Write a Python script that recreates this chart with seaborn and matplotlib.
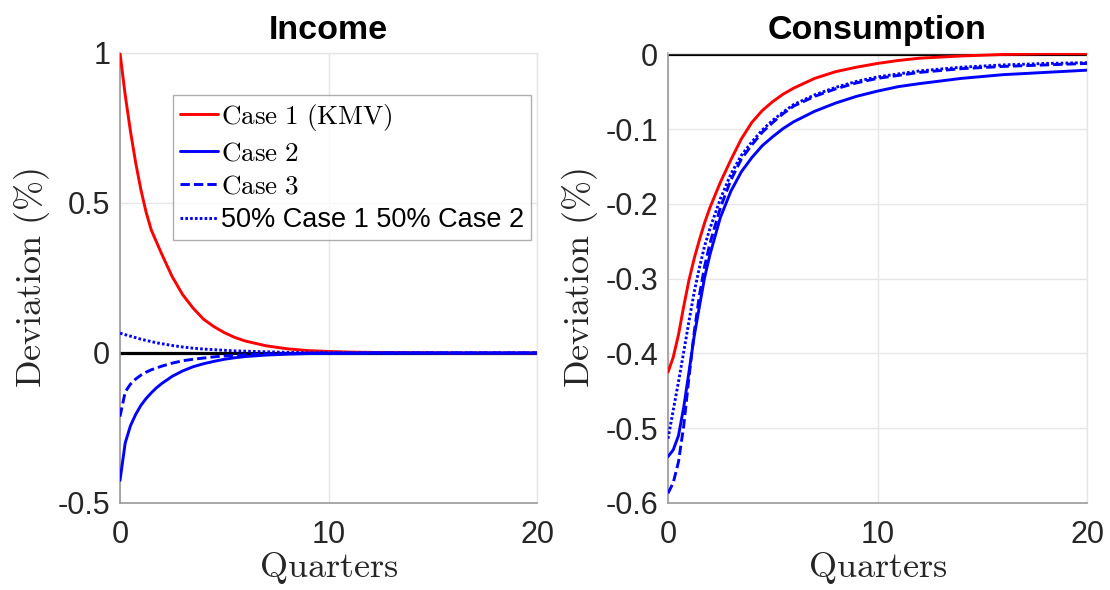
import numpy as np
import pandas as pd
import matplotlib
matplotlib.use("Agg")
import matplotlib.pyplot as plt
import seaborn as sns

# ---------------- data ----------------
quarters = [0, 0.25, 0.5, 0.75, 1, 1.25, 1.5, 1.75, 2, 2.5, 3, 3.5, 4, 4.5, 5, 5.5, 6,
            7, 8, 9, 10, 11, 12, 14, 16, 18, 20]

income_case1 = [1.0, 0.86, 0.74, 0.635, 0.545, 0.47, 0.41, 0.37, 0.33, 0.255, 0.195, 0.15,
                0.113, 0.088, 0.068, 0.052, 0.04, 0.024, 0.014, 0.008, 0.005, 0.003, 0.002,
                0.001, 0.0, 0.0, 0.0]
income_case2 = [-0.425, -0.30, -0.243, -0.205, -0.175, -0.152, -0.133, -0.116, -0.102, -0.078,
                -0.06, -0.046, -0.036, -0.028, -0.021, -0.016, -0.012, -0.007, -0.004, -0.002,
                -0.001, -0.001, 0.0, 0.0, 0.0, 0.0, 0.0]
income_case3 = [-0.212, -0.13, -0.104, -0.087, -0.074, -0.064, -0.056, -0.05, -0.044, -0.034,
                -0.026, -0.021, -0.017, -0.013, -0.01, -0.008, -0.006, -0.004, -0.002, -0.001,
                -0.001, 0.0, 0.0, 0.0, 0.0, 0.0, 0.0]
income_mix = [0.066, 0.061, 0.056, 0.051, 0.046, 0.042, 0.038, 0.034, 0.031, 0.025, 0.02,
              0.016, 0.013, 0.011, 0.009, 0.007, 0.006, 0.004, 0.002, 0.001, 0.001, 0.0, 0.0,
              0.0, 0.0, 0.0, 0.0]

cons_case1 = [-0.425, -0.405, -0.375, -0.337, -0.302, -0.273, -0.248, -0.225, -0.205, -0.171,
              -0.141, -0.113, -0.091, -0.075, -0.063, -0.053, -0.045, -0.032, -0.023, -0.017,
              -0.012, -0.008, -0.005, -0.002, 0.0, 0.001, 0.001]
cons_case2 = [-0.538, -0.529, -0.510, -0.472, -0.425, -0.377, -0.337, -0.298, -0.268, -0.218,
              -0.183, -0.157, -0.138, -0.122, -0.110, -0.099, -0.090, -0.076, -0.065, -0.056,
              -0.049, -0.043, -0.039, -0.032, -0.027, -0.024, -0.021]
cons_case3 = [-0.587, -0.573, -0.545, -0.497, -0.432, -0.372, -0.322, -0.283, -0.253, -0.205,
              -0.168, -0.140, -0.121, -0.104, -0.091, -0.079, -0.069, -0.056, -0.046, -0.038,
              -0.032, -0.028, -0.024, -0.019, -0.016, -0.014, -0.012]
cons_mix = [-0.514, -0.476, -0.438, -0.398, -0.357, -0.318, -0.285, -0.256, -0.233, -0.193,
            -0.160, -0.135, -0.117, -0.101, -0.088, -0.077, -0.067, -0.054, -0.044, -0.036,
            -0.030, -0.026, -0.022, -0.017, -0.014, -0.012, -0.011]

series_labels = [r"$\mathrm{Case\ 1\ (KMV)}$", r"$\mathrm{Case\ 2}$", r"$\mathrm{Case\ 3}$",
                 "50% Case 1 50% Case 2"]
panel_titles = ["Income", "Consumption"]
x_ticks = [0, 10, 20]
income_yticks = [-0.5, 0, 0.5, 1]
income_yticklabels = ["-0.5", "0", "0.5", "1"]
cons_yticks = [-0.6, -0.5, -0.4, -0.3, -0.2, -0.1, 0]
cons_yticklabels = ["-0.6", "-0.5", "-0.4", "-0.3", "-0.2", "-0.1", "0"]

# ---------------- style ----------------
sns.set_style("white")
plt.rcParams["font.family"] = ["Liberation Sans", "DejaVu Sans"]
plt.rcParams["mathtext.fontset"] = "cm"

colors = ["#ff0000", "#0000ff", "#0000ff", "#0000ff"]
styles = ["-", "-", (0, (3.2, 1.4)), (0, (0.9, 0.75))]

fig = plt.figure(figsize=(11.1, 5.9), dpi=100)
ax1 = fig.add_axes([0.1081, 0.1475, 0.3757, 0.7627])
ax2 = fig.add_axes([0.6018, 0.1475, 0.3775, 0.7627])

panels = [
    (ax1, [income_case1, income_case2, income_case3, income_mix], (-0.5, 1.0),
     income_yticks, income_yticklabels),
    (ax2, [cons_case1, cons_case2, cons_case3, cons_mix], (-0.6, 0.002),
     cons_yticks, cons_yticklabels),
]

for i, (ax, data, ylim, yt, ytl) in enumerate(panels):
    ax.axhline(0, color="black", lw=2.3, zorder=1.5)
    for vals, lab, c, ls in zip(data, series_labels, colors, styles):
        sns.lineplot(x=quarters, y=vals, ax=ax, color=c, label=lab, lw=2.1,
                     zorder=3, estimator=None)
        ax.lines[-1].set_linestyle(ls)
    ax.set_xlim(0, 20)
    ax.set_ylim(*ylim)
    ax.set_xticks(x_ticks)
    ax.set_xticklabels([str(v) for v in x_ticks])
    ax.set_yticks(yt)
    ax.set_yticklabels(ytl)
    ax.grid(True, color="#e6e6e6", lw=1.0, zorder=0)
    ax.set_axisbelow(True)
    for s in ["left", "bottom"]:
        ax.spines[s].set_color("#9a9a9a")
        ax.spines[s].set_linewidth(1.2)
    for s in ["top", "right"]:
        ax.spines[s].set_color("#e6e6e6")
        ax.spines[s].set_linewidth(1.0)
    ax.tick_params(axis="both", direction="in", length=4, width=0.8, color="#9a9a9a",
                   labelsize=22, labelcolor="#262626")
    ax.tick_params(axis="x", pad=12)
    ax.tick_params(axis="y", pad=7)
    ax.set_title(panel_titles[i], fontsize=24.5, fontweight="bold", pad=10, color="black")
    ax.set_xlabel(r"$\mathrm{Quarters}$", fontsize=26, labelpad=0, color="#262626")
    ax.set_ylabel(r"$\mathrm{Deviation\ (\%)}$", fontsize=26, labelpad=4, color="#262626")
    if i == 0:
        leg = ax.legend(loc="upper right", bbox_to_anchor=(0.9856, 0.9067), fontsize=19.5,
                        frameon=True, fancybox=False, edgecolor="#9a9a9a",
                        handlelength=1.4, handletextpad=0.12, borderpad=0.25,
                        labelspacing=0.28, borderaxespad=0.0)
        leg.get_frame().set_linewidth(1.0)
        for t in leg.get_texts():
            t.set_color("black")
    else:
        ax.get_legend().remove()

fig.savefig("out.png", dpi=100)
